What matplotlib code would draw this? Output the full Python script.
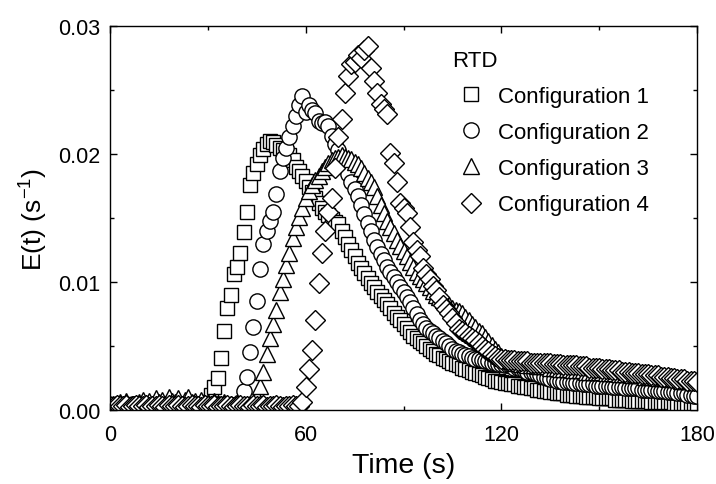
import matplotlib
matplotlib.use("Agg")
import matplotlib.pyplot as plt
import numpy as np
from matplotlib.ticker import MultipleLocator, FormatStrFormatter

plt.rcParams.update(
    {
        "font.family": ["Liberation Sans", "DejaVu Sans"],
        "mathtext.default": "regular",
        "axes.linewidth": 1.0,
    }
)

# sampled once per second, 0..180 s
TIME = np.arange(0, 181)

# E(t) values in units of 1e-4 s^-1
CONFIG1 = [
    4, 3, 5, 4, 3, 3, 5, 4, 3, 4,
    5, 4, 3, 3, 4, 5, 4, 3, 4, 3,
    5, 3, 4, 3, 5, 4, 3, 4, 5, 4,
    6, 12, 18, 25, 41, 62, 80, 90, 106, 112,
    123, 139, 155, 176, 185, 192, 199, 204, 208, 210,
    209, 207, 205, 203, 201, 199, 195, 190, 187, 183,
    179, 174, 170, 166, 162, 158, 155, 152, 149, 147,
    145, 140, 135, 130, 125, 120, 115, 111, 107, 103,
    99, 96, 92, 89, 86, 83, 80, 76, 73, 70,
    67, 64, 61, 58, 56, 54, 52, 50, 48, 46,
    44, 43, 41, 40, 38, 37, 36, 35, 33, 32,
    31, 30, 29, 28, 27, 26, 25, 24, 23, 23,
    22, 21, 21, 20, 20, 19, 19, 18, 18, 17,
    17, 16, 16, 15, 15, 14, 14, 13, 13, 13,
    12, 12, 12, 11, 11, 11, 10, 10, 10, 10,
    9, 9, 9, 9, 9, 8, 8, 8, 8, 8,
    7, 7, 7, 7, 7, 7, 6, 6, 6, 6,
    6, 6, 6, 5, 5, 5, 5, 5, 5, 5,
    5,
]
CONFIG2 = [
    3, 4, 5, 3, 4, 4, 3, 5, 4, 3,
    4, 5, 3, 4, 4, 5, 3, 4, 4, 3,
    5, 4, 3, 4, 4, 5, 4, 3, 4, 5,
    4, 3, 4, 5, 3, 4, 4, 3, 4, 4,
    6, 15, 26, 45, 65, 85, 110, 130, 140, 148,
    155, 169, 187, 197, 205, 213, 222, 230, 238, 245,
    233, 238, 234, 232, 226, 224, 225, 222, 214, 208,
    203, 196, 190, 184, 178, 173, 167, 160, 153, 146,
    140, 133, 127, 122, 117, 112, 108, 104, 100, 96,
    92, 88, 84, 80, 75, 70, 67, 64, 62, 60,
    58, 56, 54, 52, 50, 48, 46, 45, 44, 43,
    42, 41, 40, 40, 39, 38, 38, 37, 37, 36,
    36, 35, 35, 34, 33, 33, 32, 31, 30, 30,
    29, 28, 27, 26, 25, 24, 24, 23, 23, 22,
    22, 22, 21, 21, 21, 20, 20, 20, 20, 19,
    19, 19, 19, 19, 18, 18, 18, 18, 17, 17,
    17, 17, 17, 16, 16, 16, 16, 16, 15, 15,
    15, 14, 14, 14, 13, 13, 13, 12, 12, 11,
    11,
]
CONFIG3 = [
    4, 5, 3, 6, 4, 7, 4, 5, 3, 6,
    8, 5, 7, 4, 9, 6, 8, 5, 10, 7,
    6, 9, 5, 8, 10, 6, 7, 5, 8, 4,
    6, 4, 7, 5, 4, 6, 3, 5, 4, 5,
    4, 3, 4, 3, 5, 10, 19, 30, 44, 56,
    67, 78, 92, 102, 113, 123, 134, 143, 151, 158,
    166, 171, 176, 180, 183, 187, 190, 193, 195, 197,
    198, 199, 198, 197, 196, 194, 192, 189, 185, 181,
    178, 174, 167, 160, 154, 148, 143, 138, 133, 128,
    124, 120, 116, 112, 108, 105, 102, 99, 96, 93,
    90, 88, 86, 84, 82, 80, 78, 77, 76, 73,
    70, 67, 65, 62, 60, 57, 54, 51, 48, 45,
    42, 40, 39, 38, 37, 37, 36, 36, 35, 35,
    35, 34, 34, 34, 34, 33, 33, 33, 32, 32,
    32, 32, 31, 31, 31, 31, 30, 30, 30, 30,
    30, 30, 29, 29, 29, 29, 28, 28, 28, 28,
    27, 27, 27, 27, 26, 26, 26, 26, 25, 25,
    25, 25, 24, 24, 24, 23, 23, 23, 23, 22,
    22,
]
CONFIG4 = [
    3, 2, 4, 3, 3, 4, 2, 3, 4, 3,
    3, 4, 2, 3, 3, 4, 3, 2, 4, 3,
    3, 4, 3, 2, 3, 4, 3, 3, 2, 4,
    3, 3, 4, 2, 3, 3, 4, 3, 2, 3,
    4, 3, 3, 2, 4, 3, 3, 4, 2, 3,
    3, 4, 3, 2, 3, 3, 4, 3, 3, 6,
    18, 32, 47, 70, 99, 123, 140, 155, 166, 189,
    213, 227, 248, 261, 270, 272, 277, 275, 281, 284,
    267, 257, 248, 239, 235, 231, 201, 193, 178, 162,
    158, 154, 143, 131, 125, 120, 111, 106, 102, 97,
    94, 88, 82, 79, 76, 72, 68, 63, 62, 60,
    58, 56, 55, 52, 50, 48, 46, 44, 42, 41,
    40, 40, 39, 39, 39, 38, 38, 38, 38, 37,
    37, 37, 37, 37, 37, 37, 36, 36, 36, 35,
    35, 35, 35, 35, 34, 34, 34, 33, 33, 33,
    33, 32, 32, 32, 31, 31, 31, 30, 30, 30,
    29, 29, 29, 28, 28, 28, 27, 27, 27, 26,
    26, 26, 25, 25, 24, 24, 24, 23, 23, 23,
    22,
]

LABELS = ["Configuration 1", "Configuration 2", "Configuration 3", "Configuration 4"]
MARKERS = ["s", "o", "^", "D"]
SIZES = [10, 11, 11.5, 10]
SCALE = 1e-4


def main():
    fig = plt.figure(figsize=(7.16, 4.85), dpi=100)
    ax = fig.add_axes([0.1536, 0.1526, 0.8199, 0.7917])

    series = [CONFIG1, CONFIG2, CONFIG3, CONFIG4]
    for values, label, marker, size in zip(series, LABELS, MARKERS, SIZES):
        ax.plot(
            TIME,
            np.array(values) * SCALE,
            linestyle="none",
            marker=marker,
            markersize=size,
            markerfacecolor="white",
            markeredgecolor="black",
            markeredgewidth=1.0,
            label=label,
        )

    ax.set_xlim(0, 180)
    ax.set_ylim(0, 0.03)
    ax.xaxis.set_major_locator(MultipleLocator(60))
    ax.xaxis.set_minor_locator(MultipleLocator(30))
    ax.yaxis.set_major_locator(MultipleLocator(0.01))
    ax.yaxis.set_minor_locator(MultipleLocator(0.005))
    ax.yaxis.set_major_formatter(FormatStrFormatter("%.2f"))
    ax.tick_params(which="both", direction="in", top=True, right=True, labelsize=15.5, width=1.0)
    ax.tick_params(which="major", length=5)
    ax.tick_params(which="minor", length=3)
    ax.tick_params(axis="x", which="major", pad=10)
    ax.tick_params(axis="y", which="major", pad=7)

    ax.set_xlabel("Time (s)", fontsize=20.5, labelpad=5)
    ax.set_ylabel("E(t) (s$^{-1}$)", fontsize=19, labelpad=6)

    ax.legend(
        title="RTD",
        loc="upper left",
        bbox_to_anchor=(0.548, 0.99),
        frameon=False,
        numpoints=1,
        fontsize=16,
        title_fontsize=16,
        handlelength=1.7,
        handletextpad=0.4,
        labelspacing=0.68,
        alignment="left",
    )

    fig.savefig("out.png", dpi=100)
    plt.close(fig)


if __name__ == "__main__":
    main()
